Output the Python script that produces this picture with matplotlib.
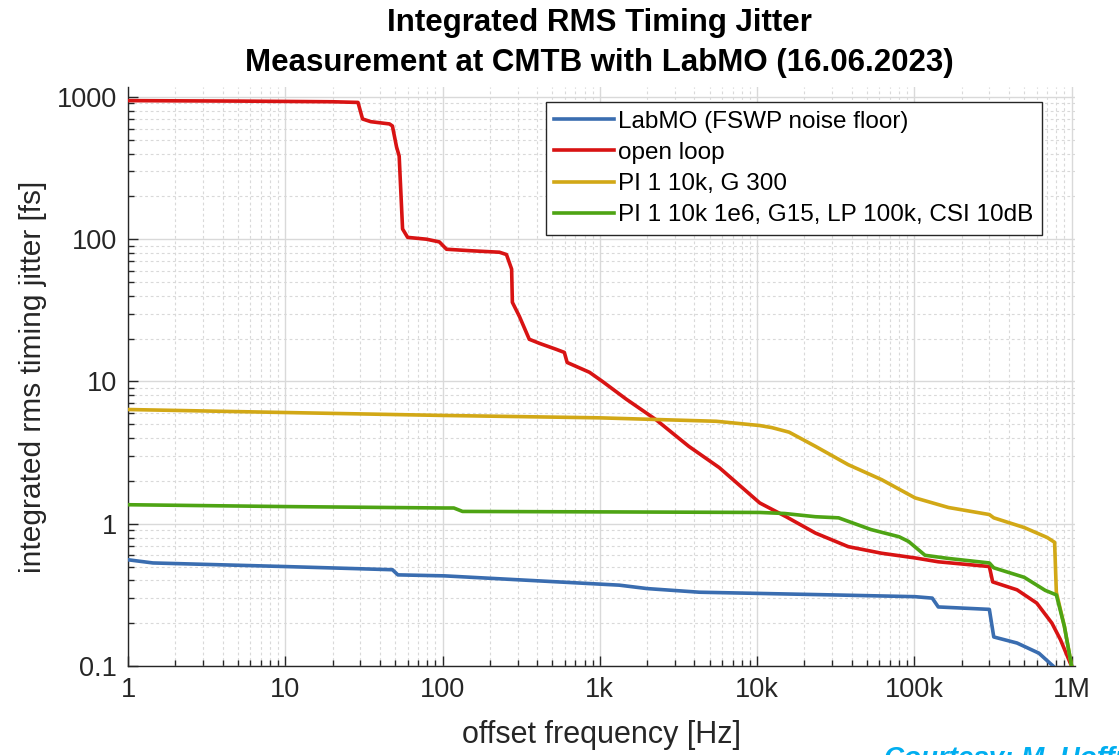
import matplotlib
matplotlib.use("Agg")
import matplotlib.pyplot as plt
from matplotlib.ticker import LogLocator, FixedLocator, FixedFormatter, NullFormatter

plt.rcParams['font.family'] = ['Liberation Sans', 'DejaVu Sans']

# Integrated RMS timing jitter [fs] versus offset frequency [Hz]
labmo_f = [1, 1.44, 10, 48, 52, 103, 1330, 2000, 4300, 30000, 101000, 130000,
           142000, 300000, 320000, 450000, 620000, 770000, 800000]
labmo_v = [0.558, 0.53, 0.50, 0.475, 0.437, 0.43, 0.37, 0.35, 0.33, 0.316, 0.307, 0.30,
           0.26, 0.25, 0.16, 0.145, 0.123, 0.099, 0.09]

open_f = [1, 5, 20, 29, 31, 35, 46, 48, 51, 53, 55.7, 60, 79, 95.5, 106, 150, 230,
          255, 275, 278, 308, 356, 415, 530, 595, 620, 860, 1040, 1475, 2270, 3680,
          5750, 10400, 15300, 23500, 38000, 62000, 101000, 142000, 300000, 315000,
          450000, 600000, 750000, 850000, 980000, 1e6]
open_v = [942, 935, 925, 915, 700, 670, 646, 625, 445, 384, 118, 103, 100, 95.7, 85,
          83, 81, 78, 61.6, 36, 28.7, 19.8, 18.5, 16.8, 16, 13.6, 11.6, 10.0, 7.5, 5.4,
          3.5, 2.48, 1.4, 1.12, 0.86, 0.69, 0.62, 0.575, 0.54, 0.50, 0.39, 0.343,
          0.277, 0.20, 0.153, 0.105, 0.1]

pi_g300_f = [1, 10, 100, 1000, 5500, 10400, 12400, 16000, 23500, 38000, 62000,
             101000, 165000, 300000, 320000, 500000, 700000, 780000, 800000, 900000, 1e6]
pi_g300_v = [6.35, 6.05, 5.77, 5.55, 5.25, 4.9, 4.74, 4.4, 3.5, 2.6, 2.04,
             1.52, 1.3, 1.16, 1.1, 0.94, 0.8, 0.74, 0.33, 0.19, 0.1]

pi_g15_f = [1, 10, 103, 118, 134, 1330, 10400, 15000, 23500, 33000, 53000, 80000,
            92000, 117000, 165000, 300000, 320000, 500000, 680000, 800000, 900000, 1e6]
pi_g15_v = [1.36, 1.32, 1.29, 1.29, 1.22, 1.21, 1.2, 1.18, 1.12, 1.1, 0.91, 0.81,
            0.75, 0.6, 0.57, 0.53, 0.49, 0.42, 0.34, 0.316, 0.19, 0.1]

series_labels = ["LabMO (FSWP noise floor)", "open loop", "PI 1 10k, G 300",
                 "PI 1 10k 1e6, G15, LP 100k, CSI 10dB"]
series_colors = ["#3a6db0", "#d81313", "#d2a816", "#4ea414"]

x_ticks = [1, 10, 100, 1e3, 1e4, 1e5, 1e6]
x_tick_labels = ["1", "10", "100", "1k", "10k", "100k", "1M"]
y_ticks = [0.1, 1, 10, 100, 1000]
y_tick_labels = ["0.1", "1", "10", "100", "1000"]

fig = plt.figure(figsize=(11.19, 7.55), dpi=100)
ax = fig.add_axes([0.1144, 0.1179, 0.8462, 0.7669])

data = [(labmo_f, labmo_v), (open_f, open_v), (pi_g300_f, pi_g300_v), (pi_g15_f, pi_g15_v)]
for (f, v), lab, col in zip(data, series_labels, series_colors):
    ax.plot(f, v, color=col, lw=2.6, label=lab, solid_joinstyle='round', zorder=3)

ax.set_xscale('log')
ax.set_yscale('log')
ax.set_xlim(1, 1.05e6)
ax.set_ylim(0.1, 1175)

ax.xaxis.set_major_locator(FixedLocator(x_ticks))
ax.xaxis.set_major_formatter(FixedFormatter(x_tick_labels))
ax.yaxis.set_major_locator(FixedLocator(y_ticks))
ax.yaxis.set_major_formatter(FixedFormatter(y_tick_labels))
ax.xaxis.set_minor_locator(LogLocator(base=10, subs=range(2, 10), numticks=20))
ax.yaxis.set_minor_locator(LogLocator(base=10, subs=range(2, 10), numticks=20))
ax.xaxis.set_minor_formatter(NullFormatter())
ax.yaxis.set_minor_formatter(NullFormatter())

ax.grid(which='major', color='#d9d9d9', lw=1.0, ls='-', zorder=0)
ax.grid(which='minor', color='#d9d9d9', lw=0.8, ls=(0, (2.5, 2.5)), zorder=0)
ax.set_axisbelow(True)

for side in ('top', 'right'):
    ax.spines[side].set_visible(False)
for side in ('left', 'bottom'):
    ax.spines[side].set_color('#262626')
    ax.spines[side].set_linewidth(1.0)

ax.tick_params(which='both', direction='in', colors='#262626', labelsize=19.5, width=1.0)
ax.tick_params(which='major', length=7, pad=8)
ax.tick_params(which='minor', length=4)

ax.set_xlabel("offset frequency [Hz]", fontsize=22, color='#262626', labelpad=12)
ax.set_ylabel("integrated rms timing jitter [fs]", fontsize=21.5, color='#262626', labelpad=7)

fig.text(0.536, 0.99, "Integrated RMS Timing Jitter\nMeasurement at CMTB with LabMO (16.06.2023)",
         ha='center', va='top', fontsize=22.5, fontweight='bold', linespacing=1.45)

leg = ax.legend(loc='upper right', bbox_to_anchor=(0.965, 0.974), fontsize=17.5,
                frameon=True, fancybox=False, framealpha=1, edgecolor='#262626',
                handlelength=2.45, handletextpad=0.18, labelspacing=0.38,
                borderpad=0.35, borderaxespad=0)
leg.get_frame().set_linewidth(1.0)

fig.text(0.79, -0.022, "Courtesy: M. Hoffmann", color='#00aef0', fontsize=20,
         fontweight='bold', style='italic', ha='left', va='bottom')

fig.savefig("out.png", dpi=100)
